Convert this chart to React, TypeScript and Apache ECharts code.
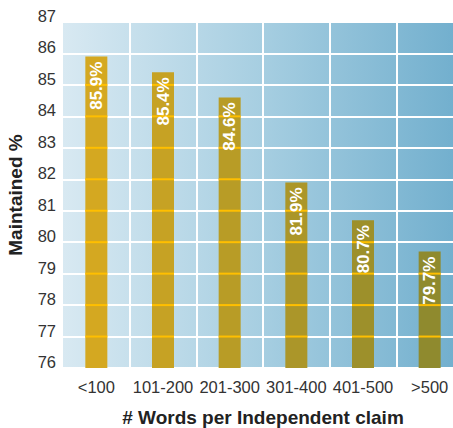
import React, { useEffect, useRef } from 'react';
import * as echarts from 'echarts';

const categories = ['<100', '101-200', '201-300', '301-400', '401-500', '>500'];
const maintainedPct = [85.9, 85.4, 84.6, 81.9, 80.7, 79.7];
const yMin = 76;
const yMax = 87;
const yStep = 1;

const FONT = '"Liberation Sans", Arial, Helvetica, sans-serif';

// Bars shade from gold on the light side of the plot to olive on the dark side.
const GOLD = [212, 168, 33];
const OLIVE = [143, 138, 46];
function barColor(i: number, n: number): string {
  const t = n > 1 ? i / (n - 1) : 0;
  const c = GOLD.map((g, k) => Math.round(g + (OLIVE[k] - g) * t));
  return `rgb(${c[0]},${c[1]},${c[2]})`;
}

export default function App() {
  const ref = useRef<HTMLDivElement>(null);

  useEffect(() => {
    if (!ref.current) return;
    const chart = echarts.init(ref.current, null, { renderer: 'svg' });

    chart.setOption({
      animation: false,
      grid: {
        left: 63,
        top: 22,
        width: 400,
        height: 346,
        outerBoundsMode: 'none',
        containLabel: false,
        show: true,
        borderWidth: 0,
        backgroundColor: {
          type: 'linear',
          x: 0,
          y: 0,
          x2: 1,
          y2: 0,
          colorStops: [
            { offset: 0, color: '#D8E9F2' },
            { offset: 0.5, color: '#A6CEE1' },
            { offset: 1, color: '#70AECD' },
          ],
        },
      },
      xAxis: {
        type: 'category',
        data: categories,
        axisLine: { show: false },
        axisTick: { show: false },
        axisLabel: { interval: 0, fontSize: 16.5, color: '#333', fontFamily: FONT, margin: 10 },
        splitLine: {
          show: true,
          interval: (index: number) => index !== 0,
          lineStyle: { color: '#ffffff', width: 2 },
        },
        name: '# Words per Independent claim',
        nameLocation: 'middle',
        nameGap: 40,
        nameTextStyle: {
          fontSize: 19,
          lineHeight: 19,
          fontWeight: 'bold',
          color: '#222',
          fontFamily: FONT,
        },
      },
      yAxis: {
        type: 'value',
        min: yMin,
        max: yMax,
        interval: yStep,
        axisLine: { show: false },
        axisTick: { show: false },
        axisLabel: {
          fontSize: 16.5,
          color: '#333',
          fontFamily: FONT,
          margin: 7,
          verticalAlign: 'bottom',
          lineHeight: 12,
        },
        splitLine: { show: true, lineStyle: { color: '#ffffff', width: 2 } },
        name: 'Maintained %',
        nameLocation: 'middle',
        nameGap: 38,
        nameTextStyle: { fontSize: 19, fontWeight: 'bold', color: '#222', fontFamily: FONT },
      },
      series: [
        {
          type: 'bar',
          barWidth: 22,
          z: 2,
          data: maintainedPct.map((v, i) => ({
            value: v,
            itemStyle: { color: barColor(i, maintainedPct.length) },
          })),
          label: {
            show: true,
            position: 'insideTop',
            rotate: 90,
            align: 'right',
            verticalAlign: 'middle',
            distance: 5,
            formatter: (p: any) => `${p.value.toFixed(1)}%`,
            color: '#ffffff',
            fontSize: 17,
            fontWeight: 'bold',
            fontFamily: FONT,
          },
        },
        {
          // horizontal grid lines showing through the bars
          type: 'custom',
          z: 2,
          silent: true,
          data: maintainedPct.map((v, i) => [i, v]),
          encode: { x: 0, y: 1 },
          renderItem: (params: any, api: any) => {
            const i = api.value(0);
            const v = api.value(1);
            const children: any[] = [];
            for (let t = yMin + yStep; t < v; t += yStep) {
              const p = api.coord([i, t]);
              children.push({
                type: 'line',
                z2: 1,
                shape: { x1: p[0] - 11, y1: p[1], x2: p[0] + 11, y2: p[1] },
                style: { stroke: '#FFBF00', lineWidth: 2 },
              });
            }
            return { type: 'group', children };
          },
        },
      ],
    });

    return () => chart.dispose();
  }, []);

  return (
    <div
      ref={ref}
      style={{ position: 'absolute', left: 0, top: 0, width: 453, height: 428 }}
    />
  );
}
